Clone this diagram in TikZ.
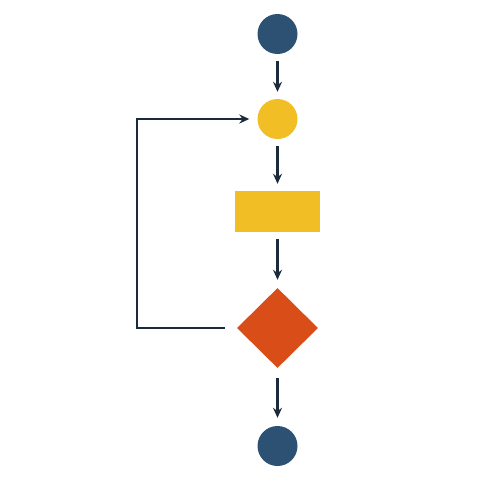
\documentclass[tikz,border=0pt]{standalone}
\usetikzlibrary{shapes.geometric,arrows.meta}
\definecolor{navyfill}{HTML}{2C5172}
\definecolor{sunfill}{HTML}{F2BE26}
\definecolor{rustfill}{HTML}{D94D19}
\definecolor{linecol}{HTML}{1C2B3B}
\tikzset{
  endpt/.style={circle,fill=navyfill,draw=none,minimum size=40pt,inner sep=0pt},
  mergept/.style={circle,fill=sunfill,draw=none,minimum size=40pt,inner sep=0pt},
  taskbox/.style={rectangle,fill=sunfill,draw=none,minimum width=85pt,minimum height=41pt,inner sep=0pt},
  decbox/.style={diamond,fill=rustfill,draw=none,minimum width=81pt,minimum height=80pt,inner sep=0pt},
  conn/.style={draw=linecol,line width=2.3pt,-{Stealth[length=10pt,width=9pt]},shorten <=7pt,shorten >=7pt}
}
\begin{document}
\begin{tikzpicture}[x=1pt,y=-1pt]
\useasboundingbox (0,0) rectangle (500,490);
\node[endpt] (start) at (277.5,34) {};
\node[mergept] (merge) at (277.5,119) {};
\node[taskbox] (task) at (277.5,211.5) {};
\node[decbox] (dec) at (277.5,328) {};
\node[endpt] (stop) at (277.5,446) {};
\coordinate (c1) at (137,328);
\coordinate (c2) at (137,119);
\draw[conn] (start) -- (merge);
\draw[conn] (merge) -- (task);
\draw[conn,shorten >=8pt] (task) -- (dec);
\draw[conn,shorten <=10pt,shorten >=8pt] (dec) -- (stop);
\draw[conn,shorten <=12pt,shorten >=8pt] (dec.west) -- (c1) -- (c2) -- (merge.west);
\end{tikzpicture}
\end{document}
